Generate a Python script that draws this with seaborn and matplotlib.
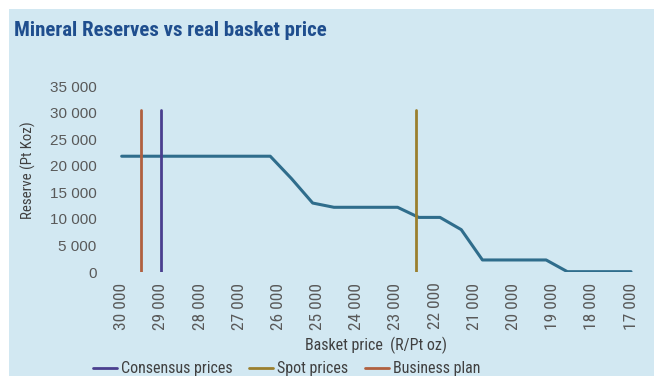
import matplotlib
matplotlib.use("Agg")
import matplotlib.pyplot as plt
from matplotlib import font_manager
from matplotlib.patches import Rectangle
from matplotlib.ticker import FixedLocator, FuncFormatter
import seaborn as sns

# Reserve curve: basket price (R/Pt oz) against mineral reserves (Pt Koz)
basket_price = [30000, 29458, 28917, 28375, 27833, 27292, 26750, 26208,
                25667, 25125, 24583, 24042, 23500, 22958, 22417, 21875,
                21333, 20792, 20250, 19708, 19167, 18625, 18083, 17542, 17000]
reserve = [21800, 21800, 21800, 21800, 21800, 21800, 21800, 21800,
           17600, 13000, 12200, 12200, 12200, 12200, 10300, 10300,
           8000, 2300, 2300, 2300, 2300, 100, 100, 100, 100]

# Price scenarios shown as vertical markers
scenario_names = ["Consensus prices", "Spot prices", "Business plan"]
scenario_prices = [29000, 22500, 29500]
scenario_colors = ["#4a3f8f", "#9a7f2e", "#b0603f"]
marker_span = [0, 30500]

x_ticks = [30000, 29000, 28000, 27000, 26000, 25000, 24000,
           23000, 22000, 21000, 20000, 19000, 18000, 17000]
y_ticks = [0, 5000, 10000, 15000, 20000, 25000, 30000, 35000]

BG = "#d2e8f2"
LINE = "#2f6d8c"
TICK = "#595959"
TITLE = "#1f4e8e"

sns.set_theme(style="white", rc={"axes.facecolor": BG})
plt.rcParams["font.family"] = ["Liberation Sans", "DejaVu Sans"]

# Prefer a condensed face for titles; otherwise shrink the regular one
installed = {f.name for f in font_manager.fontManager.ttflist}
condensed = None
for cand in ["Liberation Sans Narrow", "Roboto Condensed", "Open Sans Condensed"]:
    if cand in installed:
        condensed = cand
        break
if condensed is None:
    NARROW = ["Liberation Sans", "DejaVu Sans"]
    title_size, xl_size, yl_size, leg_size, xt_size = 12.4, 11.0, 9.5, 9.6, 11
else:
    NARROW = [condensed, "Liberation Sans", "DejaVu Sans"]
    title_size, xl_size, yl_size, leg_size, xt_size = 15, 11.5, 10.7, 11.5, 12.5

fig = plt.figure(figsize=(6.54, 3.76), dpi=100)
fig.patch.set_facecolor("white")
fig.patches.append(Rectangle((9 / 654, 0), 1 - 9 / 654, 1 - 9 / 376,
                             transform=fig.transFigure, facecolor=BG,
                             edgecolor="none", zorder=-5))

ax = fig.add_axes([102.1 / 654, (376 - 272.2) / 376, 548.5 / 654, 186.2 / 376])
ax.set_zorder(2)
ax.patch.set_alpha(0)

sns.lineplot(x=basket_price, y=reserve, color=LINE, linewidth=2.2, ax=ax,
             zorder=2)
for name, price, col in zip(scenario_names, scenario_prices, scenario_colors):
    sns.lineplot(x=[price, price], y=marker_span, estimator=None, sort=False,
                 color=col, linewidth=2.0, ax=ax, label=name, zorder=3)

ax.set_xlim(30500, 16500)
ax.set_ylim(0, 35000)
ax.xaxis.set_major_locator(FixedLocator(x_ticks))
ax.yaxis.set_major_locator(FixedLocator(y_ticks))
fmt = FuncFormatter(lambda v, p: f"{int(v):,}".replace(",", " "))
ax.xaxis.set_major_formatter(fmt)
ax.yaxis.set_major_formatter(fmt)
ax.tick_params(axis="both", length=0, labelsize=11, labelcolor=TICK)
ax.tick_params(axis="x", pad=7.5, labelrotation=90, labelsize=xt_size)
ax.tick_params(axis="y", pad=4)
for lbl in ax.get_xticklabels():
    lbl.set_family(NARROW)
for s in ax.spines.values():
    s.set_visible(False)
ax.grid(False)

ax.set_xlabel("Basket price  (R/Pt oz)", fontsize=xl_size, color="#404040",
              family=NARROW)
ax.xaxis.set_label_coords(0.4994, -0.391)
ax.xaxis.label.set_va("center")
ax.set_ylabel("Reserve (Pt Koz)", fontsize=yl_size, color="#404040",
              family=NARROW)
ax.yaxis.set_label_coords(-0.135, 0.549)
ax.yaxis.label.set_va("center")

fig.text(14 / 654, 1 - 30 / 376, "Mineral Reserves vs real basket price",
         fontsize=title_size, fontweight="bold", color=TITLE, family=NARROW,
         ha="left", va="center")

handles, labels = ax.get_legend_handles_labels()
if ax.legend_ is not None:
    ax.legend_.remove()
leg = fig.legend(handles, labels, loc="center left",
                 bbox_to_anchor=(93 / 654, 1 - 369 / 376), ncol=3,
                 frameon=False, borderpad=0, borderaxespad=0,
                 handlelength=1.5, handletextpad=0.25, columnspacing=1.05,
                 prop={"family": NARROW, "size": leg_size})
for t in leg.get_texts():
    t.set_color("#404040")

fig.savefig("out.png", dpi=100, facecolor=fig.get_facecolor())
